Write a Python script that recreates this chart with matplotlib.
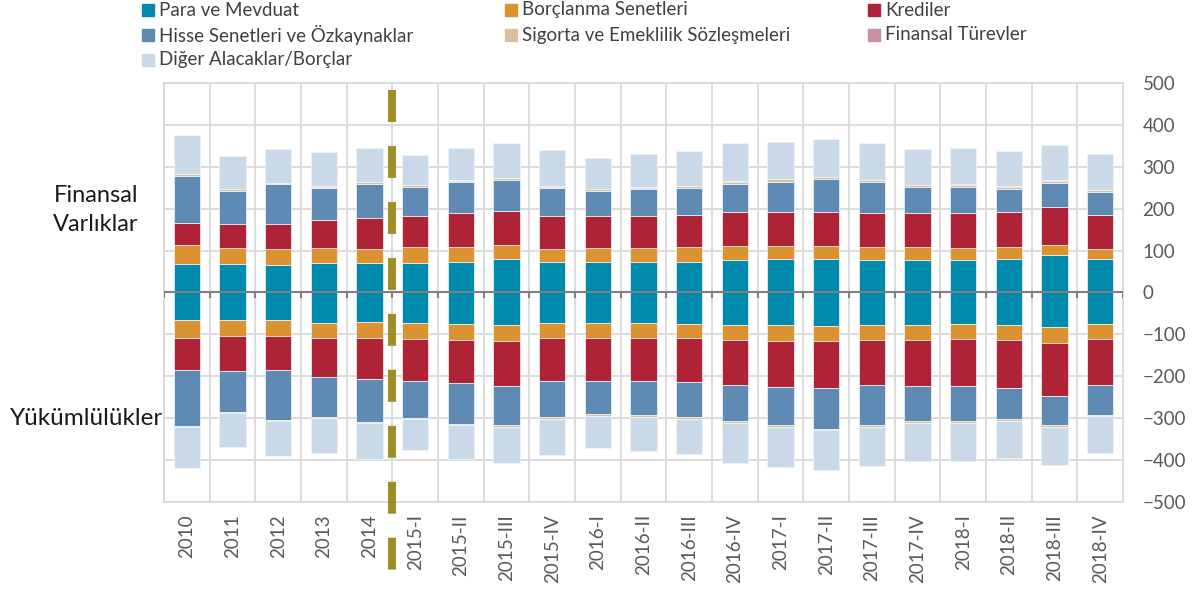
import matplotlib.pyplot as plt
from matplotlib.patches import Rectangle
import numpy as np

plt.rcParams['font.family'] = ['Lato', 'DejaVu Sans']
plt.rcParams['lines.scale_dashes'] = False

# kategoriler (yıllık + çeyreklik)
donemler = ['2010', '2011', '2012', '2013', '2014', '2015-I', '2015-II', '2015-III', '2015-IV',
            '2016-I', '2016-II', '2016-III', '2016-IV', '2017-I', '2017-II', '2017-III', '2017-IV',
            '2018-I', '2018-II', '2018-III', '2018-IV']

seriler = ['Para ve Mevduat', 'Borçlanma Senetleri', 'Krediler',
           'Hisse Senetleri ve Özkaynaklar', 'Sigorta ve Emeklilik Sözleşmeleri',
           'Finansal Türevler', 'Diğer Alacaklar/Borçlar']
renkler = ['#008BAE', '#DB9230', '#AE2436', '#5E8AB4', '#D9C09C', '#C990A8', '#C9D9E7']

# Finansal varlıklar (pozitif)
varlik_para = [68.5, 68.5, 65.3, 71.6, 70.0, 71.6, 74.0, 78.8, 74.0, 74.0, 74.0, 74.0, 77.2, 78.8, 78.8, 77.2, 77.2, 77.2, 80.4, 89.9, 80.4]
varlik_borc = [45.3, 37.4, 37.4, 34.3, 34.3, 35.9, 35.0, 35.0, 30.3, 31.9, 31.9, 33.5, 33.4, 33.4, 31.8, 30.3, 30.3, 28.7, 27.1, 24.7, 23.9]
varlik_kredi = [52.6, 58.9, 60.5, 68.4, 73.2, 76.4, 79.7, 81.2, 78.0, 76.4, 78.0, 78.0, 81.2, 81.2, 82.8, 81.2, 81.2, 82.8, 84.3, 90.8, 80.4]
varlik_hisse = [112.2, 78.8, 97.1, 76.4, 82.8, 69.2, 76.4, 74.8, 68.4, 61.3, 63.7, 65.2, 68.5, 71.7, 78.0, 76.4, 63.6, 64.4, 56.6, 55.7, 54.9]
varlik_sigorta = [4.0, 4.0, 1.6, 2.5, 4.0, 4.0, 2.0, 4.8, 2.0, 4.0, 2.5, 4.8, 4.0, 6.3, 4.8, 4.7, 4.8, 3.0, 3.9, 4.8, 5.6]
varlik_turev = [0.0, 0.0, 0.0, 1.5, 0.0, 0.0, 2.7, 0.0, 2.0, 0.0, 2.2, 0.0, 2.4, 0.0, 0.0, 0.0, 0.0, 2.6, 2.4, 3.9, 0.0]
varlik_diger = [94.0, 78.0, 80.4, 82.0, 81.2, 71.6, 75.7, 83.6, 86.0, 74.0, 78.0, 82.8, 89.9, 89.2, 90.8, 88.4, 85.2, 86.0, 83.6, 83.6, 85.9]

# Yükümlülükler (negatif yönde çizilir)
yuk_para = [66.9, 66.9, 66.9, 72.4, 70.8, 74.0, 75.6, 78.8, 72.4, 74.0, 74.0, 75.6, 77.2, 78.8, 79.6, 77.2, 77.2, 75.6, 78.8, 83.6, 75.6]
yuk_borc = [41.4, 36.6, 38.2, 35.9, 37.5, 37.4, 37.4, 38.2, 35.9, 34.3, 35.8, 34.2, 35.8, 37.4, 36.6, 35.8, 35.8, 35.8, 34.2, 38.2, 35.8]
yuk_kredi = [76.4, 83.5, 80.4, 93.1, 97.9, 99.6, 102.7, 106.7, 102.7, 102.7, 101.2, 103.5, 108.3, 109.8, 111.5, 108.3, 109.9, 111.5, 115.5, 125.0, 109.9]
yuk_hisse = [135.3, 98.0, 118.5, 95.6, 102.6, 88.3, 97.9, 93.9, 87.5, 78.7, 81.1, 83.7, 85.2, 91.6, 97.9, 94.7, 83.6, 83.6, 73.2, 70.0, 70.8]
yuk_sigorta = [1.6, 3.0, 2.3, 2.3, 4.0, 3.2, 3.2, 4.8, 3.2, 5.6, 5.6, 4.7, 6.3, 4.8, 3.1, 6.4, 6.3, 4.7, 5.6, 4.8, 3.0]
yuk_turev = [0.0, 0.0, 1.0, 0.0, 0.0, 0.0, 0.0, 0.0, 0.0, 0.0, 0.0, 0.0, 0.0, 0.0, 0.0, 0.0, 0.0, 0.0, 0.0, 0.0, 1.0]
yuk_diger = [97.1, 81.3, 82.7, 84.4, 84.4, 74.8, 80.4, 85.2, 86.7, 75.6, 81.2, 84.3, 94.8, 93.9, 94.8, 91.5, 89.1, 90.7, 88.3, 89.9, 88.4]

varliklar = [varlik_para, varlik_borc, varlik_kredi, varlik_hisse, varlik_sigorta, varlik_turev, varlik_diger]
yukumlulukler = [yuk_para, yuk_borc, yuk_kredi, yuk_hisse, yuk_sigorta, yuk_turev, yuk_diger]

fig = plt.figure(figsize=(12, 5.89), dpi=100)
ax = fig.add_axes([0.1367, 0.1482, 0.7991, 0.7105])

x = np.arange(len(donemler))
genislik = 0.58
alt_poz = np.zeros(len(x))
alt_neg = np.zeros(len(x))
for seri, renk, v, y in zip(seriler, renkler, varliklar, yukumlulukler):
    v = np.array(v)
    y = -np.array(y)
    ax.bar(x, v, genislik, bottom=alt_poz, color=renk, edgecolor='#F2F6FA', linewidth=0.5, zorder=3)
    ax.bar(x, y, genislik, bottom=alt_neg, color=renk, edgecolor='#F2F6FA', linewidth=0.5, zorder=3)
    alt_poz += v
    alt_neg += y

ax.set_xlim(-0.5, len(x) - 0.5)
ax.set_ylim(-500, 500)
ax.set_yticks(np.arange(-500, 501, 100))
ax.yaxis.tick_right()
ax.tick_params(axis='y', length=0, pad=14, labelsize=13.5, labelcolor='#595959')
ax.set_xticks(x)
ax.set_xticklabels(donemler, rotation=90)
ax.tick_params(axis='x', length=0, pad=9, labelsize=13.5, labelcolor='#595959')
ax.set_xticks(np.arange(-0.5, len(x), 1), minor=True)
ax.tick_params(axis='x', which='minor', length=0)
ax.grid(True, axis='y', color='#D9D9D9', linewidth=1.3, zorder=0)
ax.grid(True, axis='x', which='minor', color='#D9D9D9', linewidth=1.3, zorder=0)
for s in ax.spines.values():
    s.set_color('#D9D9D9')
    s.set_linewidth(1.3)

# sıfır çizgisi ve üzerindeki küçük çentikler
ax.axhline(0, color='#7F7F7F', linewidth=1.5, zorder=4)
ax.vlines(np.arange(-0.5, len(x), 1), -14, 0, color='#7F7F7F', linewidth=1.5, zorder=4)

# yıllık / çeyreklik ayrım çizgisi
ax.plot([4.5, 4.5], [484, -665], color='#A08D28', linewidth=5.8,
        linestyle=(0, (23, 17.3)), solid_capstyle='butt', dash_capstyle='butt',
        clip_on=False, zorder=5)

fig.text(0.080, 0.643, 'Finansal\nVarlıklar', ha='center', va='center', fontsize=17,
         color='#1A1A1A', linespacing=1.45)
fig.text(0.008, 0.290, 'Yükümlülükler', ha='left', va='center', fontsize=17.5, color='#1A1A1A')

# lejant
for i, (seri, renk) in enumerate(zip(seriler, renkler)):
    sutun, satir = i % 3, i // 3
    x0 = 142 + sutun * 363
    y0 = 10 + satir * 25
    fig.add_artist(Rectangle((x0 / 1200, 1 - (y0 + 6) / 589), 12 / 1200, 12 / 589,
                             transform=fig.transFigure, color=renk))
    fig.text((x0 + 17) / 1200, 1 - y0 / 589, seri, ha='left', va='center',
             fontsize=13.5, color='#404040')

fig.savefig('out.png', dpi=100)
